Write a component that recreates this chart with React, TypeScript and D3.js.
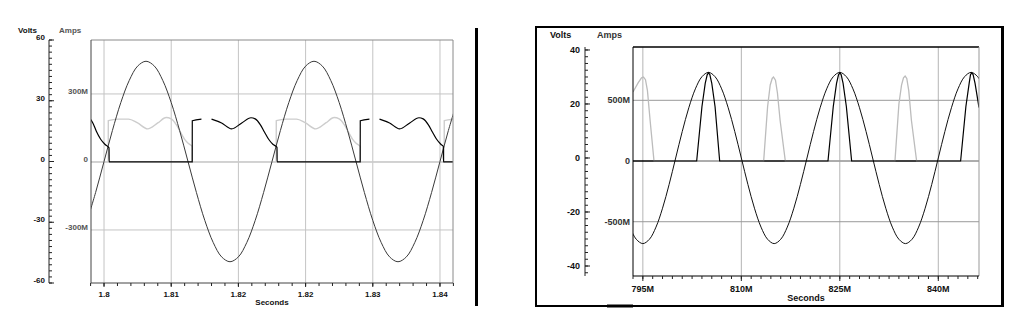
import * as d3 from 'd3';

type Pt = [number, number | null];

// ---- left scope (seconds, volts, mega-amps) ----
const leftVolts: Pt[] = [
  [1.798, -29.1], [1.799, -15.3], [1.8, 0], [1.801, 15.3], [1.802, 29.1], [1.803, 40.0],
  [1.804, 47.1], [1.805, 49.5], [1.806, 47.1], [1.807, 40.0], [1.808, 29.1], [1.809, 15.3],
  [1.81, 0], [1.811, -15.3], [1.812, -29.1], [1.813, -40.0], [1.814, -47.1], [1.815, -49.5],
  [1.816, -47.1], [1.817, -40.0], [1.818, -29.1], [1.819, -15.3], [1.82, 0], [1.821, 15.3],
  [1.822, 29.1], [1.823, 40.0], [1.824, 47.1], [1.825, 49.5], [1.826, 47.1], [1.827, 40.0],
  [1.828, 29.1], [1.829, 15.3], [1.83, 0], [1.831, -15.3], [1.832, -29.1], [1.833, -40.0],
  [1.834, -47.1], [1.835, -49.5], [1.836, -47.1], [1.837, -40.0], [1.838, -29.1], [1.839, -15.3],
  [1.84, 0], [1.841, 15.3], [1.842, 29.1],
];

const leftGrayAmps: Pt[] = [
  [1.7984, 0], [1.8005, 0], [1.80051, 182], [1.8017, 189], [1.8029, 189], [1.804, 172],
  [1.8052, 146], [1.8064, 172], [1.8074, 196], [1.808, 190], [1.8086, 165], [1.8091, 132],
  [1.8096, 100], [1.8101, 80], [1.8105, 68], [1.81051, 0],
  [1.8205, 0], [1.82051, 182], [1.8217, 189], [1.8229, 189], [1.824, 172], [1.8252, 146],
  [1.8264, 172], [1.8274, 196], [1.828, 190], [1.8286, 165], [1.8291, 132], [1.8296, 100],
  [1.8301, 80], [1.8305, 68], [1.83051, 0],
  [1.8405, 0], [1.84051, 182], [1.8417, 189],
];

const leftBlackAmps: Pt[] = [
  [1.7984, 188], [1.7987, 170], [1.7991, 134], [1.7996, 100], [1.8001, 78], [1.8006, 62],
  [1.80061, 0], [1.8105, 0], [1.81051, 182], [1.8116, 189], [1.8117, null], [1.8128, 189],
  [1.814, 172], [1.8152, 146], [1.8164, 172], [1.8175, 195], [1.818, 190], [1.8186, 165],
  [1.8191, 132], [1.8196, 100], [1.8201, 78], [1.8206, 64], [1.82061, 0],
  [1.8305, 0], [1.83051, 182], [1.8316, 189], [1.8317, null], [1.8328, 189], [1.834, 172],
  [1.8352, 146], [1.8364, 172], [1.8375, 195], [1.838, 190], [1.8386, 165], [1.8391, 132],
  [1.8396, 100], [1.8401, 78], [1.8404, 68], [1.84041, 0], [1.8417, 0],
];

const leftTimeTicks = [1.8, 1.808, 1.816, 1.824, 1.832, 1.84];
const leftTimeLabels = ['1.8', '1.81', '1.82', '1.82', '1.83', '1.84'];
const leftVoltTicks = [60, 30, 0, -30, -60];
const leftAmpTicks = [300, 0, -300];
const leftAmpLabels = ['300M', '0', '-300M'];

// ---- right scope (milliseconds, volts, mega-amps) ----
const rightVolts: Pt[] = [
  [793, -25.6], [794, -30.1], [795, -31.7], [796, -30.1], [797, -25.6], [798, -18.6],
  [799, -9.8], [800, 0], [801, 9.8], [802, 18.6], [803, 25.6], [804, 30.1], [805, 31.7],
  [806, 30.1], [807, 25.6], [808, 18.6], [809, 9.8], [810, 0], [811, -9.8], [812, -18.6],
  [813, -25.6], [814, -30.1], [815, -31.7], [816, -30.1], [817, -25.6], [818, -18.6],
  [819, -9.8], [820, 0], [821, 9.8], [822, 18.6], [823, 25.6], [824, 30.1], [825, 31.7],
  [826, 30.1], [827, 25.6], [828, 18.6], [829, 9.8], [830, 0], [831, -9.8], [832, -18.6],
  [833, -25.6], [834, -30.1], [835, -31.7], [836, -30.1], [837, -25.6], [838, -18.6],
  [839, -9.8], [840, 0], [841, 9.8], [842, 18.6], [843, 25.6], [844, 30.1], [845, 31.7],
  [846, 30.1], [847, 25.6],
];

const rightGrayAmps: Pt[] = [
  [793.5, 568], [794.3, 645], [794.8, 685], [795.1, 692], [795.4, 670], [795.7, 580],
  [796.1, 338], [796.7, 0], [813.4, 0], [814.0, 447], [814.4, 626], [814.7, 680],
  [814.9, 692], [815.2, 665], [815.5, 560], [815.9, 338], [816.7, 0], [833.4, 0],
  [834.0, 470], [834.4, 625], [834.7, 685], [834.95, 700], [835.2, 680], [835.5, 580],
  [835.9, 338], [836.7, 0], [846.2, 0],
];

const rightBlackAmps: Pt[] = [
  [793.5, 0], [803.2, 0], [804.0, 447], [804.5, 640], [804.8, 710], [805.0, 727],
  [805.2, 712], [805.5, 640], [806.0, 447], [806.7, 0], [823.2, 0], [824.0, 447],
  [824.5, 640], [824.8, 710], [825.0, 727], [825.2, 712], [825.5, 640], [826.0, 447],
  [826.8, 0], [843.4, 0], [844.2, 447], [844.7, 640], [844.9, 710], [845.1, 727],
  [845.3, 712], [845.6, 640], [846.2, 440],
];

const rightTimeTicks = [795, 810, 825, 840];
const rightTimeLabels = ['795M', '810M', '825M', '840M'];
const rightVoltTicks = [40, 20, 0, -20, -40];
const rightAmpTicks = [500, 0, -500];
const rightAmpLabels = ['500M', '0', '-500M'];

type ScopeProps = {
  id: string;
  left: number; right: number; top: number; bottom: number;
  voltAxisX: number;
  tDomain: [number, number]; vDomain: [number, number]; aDomain: [number, number];
  tMinor: number[]; vMinor: number[];
  tTicks: number[]; tLabels: string[];
  vTicks: number[]; aTicks: number[]; aLabels: string[];
  volts: Pt[]; gray: Pt[]; black: Pt[];
  sineCurve: d3.CurveFactory; ampCurve: d3.CurveFactory;
  font: number;
  voltsLabelX: number; ampsLabelX: number; headerY: number;
  vLabelX: number; aLabelX: number; labelDy: number;
  tLabelY: number; secondsY: number;
  frame: { top: string; topW: number; right: string; left: string; bottom: string; bottomW: number };
  gridV: string; gridH: string; zeroGrid: string;
  sine: string; grayColor: string; grayW: number; blackW: number;
  ampsColor: string;
  majorLen: number;
};

function Scope(p: ScopeProps) {
  const x = d3.scaleLinear().domain(p.tDomain).range([p.left, p.right]);
  const yv = d3.scaleLinear().domain(p.vDomain).range([p.bottom, p.top]);
  const ya = d3.scaleLinear().domain(p.aDomain).range([p.bottom, p.top]);

  const voltLine = d3
    .line<Pt>()
    .x((d) => x(d[0]))
    .y((d) => yv(d[1] as number))
    .curve(p.sineCurve);
  const ampLine = d3
    .line<Pt>()
    .defined((d) => d[1] !== null)
    .x((d) => x(d[0]))
    .y((d) => ya(d[1] as number))
    .curve(p.ampCurve);

  const inT = (t: number) => x(t) >= p.left - 0.5 && x(t) <= p.right + 0.5;
  const fontStyle = { fontFamily: 'Arial, "Liberation Sans", sans-serif', fontWeight: 700, fontSize: p.font };

  return (
    <g style={fontStyle}>
      <defs>
        <clipPath id={p.id}>
          <rect x={p.left} y={p.top} width={p.right - p.left} height={p.bottom - p.top} />
        </clipPath>
      </defs>

      {/* grid */}
      {p.tTicks.map((t) => (
        <line key={'gv' + t} x1={x(t)} x2={x(t)} y1={p.top} y2={p.bottom} stroke={p.gridV} />
      ))}
      {p.aTicks.map((a) => (
        <line key={'gh' + a} x1={p.left} x2={p.right} y1={ya(a)} y2={ya(a)} stroke={a === 0 ? p.zeroGrid : p.gridH} />
      ))}

      {/* traces */}
      <g clipPath={`url(#${p.id})`}>
        <path d={ampLine(p.gray) ?? ''} fill="none" stroke={p.grayColor} strokeWidth={p.grayW} />
        <path d={voltLine(p.volts) ?? ''} fill="none" stroke={p.sine} strokeWidth={1} />
        <path d={ampLine(p.black) ?? ''} fill="none" stroke="#000" strokeWidth={p.blackW} />
      </g>

      {/* frame */}
      <line x1={p.left} x2={p.right} y1={p.top} y2={p.top} stroke={p.frame.top} strokeWidth={p.frame.topW} />
      <line x1={p.right} x2={p.right} y1={p.top} y2={p.bottom} stroke={p.frame.right} />
      <line x1={p.left} x2={p.left} y1={p.top} y2={p.bottom} stroke={p.frame.left} />
      <line x1={p.left} x2={p.right} y1={p.bottom} y2={p.bottom} stroke={p.frame.bottom} strokeWidth={p.frame.bottomW} />

      {/* time axis */}
      {p.tMinor.filter(inT).map((t) => (
        <line key={'tm' + t} x1={x(t)} x2={x(t)} y1={p.bottom} y2={p.bottom + 3} stroke="#222" />
      ))}
      {p.tTicks.map((t, i) => (
        <g key={'tt' + t}>
          <line x1={x(t)} x2={x(t)} y1={p.bottom} y2={p.bottom + p.majorLen} stroke="#222" />
          <text x={x(t)} y={p.tLabelY} textAnchor="middle" fill="#111">
            {p.tLabels[i]}
          </text>
        </g>
      ))}
      <text x={(p.left + p.right) / 2} y={p.secondsY} textAnchor="middle" fill="#111">
        Seconds
      </text>

      {/* volts axis */}
      <line x1={p.voltAxisX} x2={p.voltAxisX} y1={yv(p.vDomain[1])} y2={yv(p.vDomain[0])} stroke="#222" />
      {p.vMinor.map((v) => (
        <line key={'vm' + v} x1={p.voltAxisX} x2={p.voltAxisX + 3} y1={yv(v)} y2={yv(v)} stroke="#222" />
      ))}
      {p.vTicks.map((v) => (
        <g key={'vt' + v}>
          <line x1={p.voltAxisX} x2={p.voltAxisX + 5} y1={yv(v)} y2={yv(v)} stroke="#222" />
          <text x={p.vLabelX} y={yv(v) + p.labelDy} textAnchor="end" fill="#111">
            {v}
          </text>
        </g>
      ))}

      {/* amps labels */}
      {p.aTicks.map((a, i) => (
        <text key={'at' + a} x={p.aLabelX} y={ya(a) + p.labelDy} textAnchor="end" fill={p.ampsColor}>
          {p.aLabels[i]}
        </text>
      ))}

      <text x={p.voltsLabelX} y={p.headerY} fill="#111">
        Volts
      </text>
      <text x={p.ampsLabelX} y={p.headerY} fill={p.ampsColor}>
        Amps
      </text>
    </g>
  );
}

export default function App() {
  const leftMinorT = d3.range(-3, 30).map((k) => 1.8 + k * 0.0016);
  const leftMinorV = d3.range(-60, 60.01, 3);
  const rightMinorT = d3.range(-2, 40).map((k) => 795 + k * 1.5);
  const rightMinorV = d3.range(-42.5, 41, 2.5);

  return (
    <svg
      width={1025}
      height={329}
      style={{ position: 'absolute', left: 0, top: 0, background: '#fff' }}
    >
      <rect x={0} y={0} width={1025} height={329} fill="#fff" />

      <Scope
        id="clipLeft"
        left={91} right={453} top={40} bottom={283}
        voltAxisX={49}
        tDomain={[1.79845, 1.84155]} vDomain={[-60, 60]} aDomain={[-534, 538]}
        tMinor={leftMinorT} vMinor={leftMinorV}
        tTicks={leftTimeTicks} tLabels={leftTimeLabels}
        vTicks={leftVoltTicks} aTicks={leftAmpTicks} aLabels={leftAmpLabels}
        volts={leftVolts} gray={leftGrayAmps} black={leftBlackAmps}
        sineCurve={d3.curveCatmullRom} ampCurve={d3.curveMonotoneX}
        font={8}
        voltsLabelX={18} ampsLabelX={59} headerY={33}
        vLabelX={45} aLabelX={88} labelDy={0}
        tLabelY={297} secondsY={305}
        frame={{ top: '#8a8a8a', topW: 1, right: '#8a8a8a', left: '#444', bottom: '#444', bottomW: 1 }}
        gridV="#c4c4c4" gridH="#c4c4c4" zeroGrid="#c4c4c4"
        sine="#3a3a3a" grayColor="#cdcdcd" grayW={1.4} blackW={1.2}
        ampsColor="#555"
        majorLen={4}
      />

      {/* divider */}
      <rect x={475} y={28} width={3} height={278} fill="#000" />

      {/* right frame */}
      <rect x={536} y={27} width={466} height={279} fill="none" stroke="#000" strokeWidth={2} />
      <line x1={1002.5} x2={1002.5} y1={26} y2={307} stroke="#000" strokeWidth={3} />
      <line x1={607} x2={633} y1={306} y2={306} stroke="#000" strokeWidth={3} />

      <Scope
        id="clipRight"
        left={633} right={979} top={47} bottom={276}
        voltAxisX={585}
        tDomain={[793.5, 846.2]} vDomain={[-43.7, 41.1]} aDomain={[-947, 939]}
        tMinor={rightMinorT} vMinor={rightMinorV}
        tTicks={rightTimeTicks} tLabels={rightTimeLabels}
        vTicks={rightVoltTicks} aTicks={rightAmpTicks} aLabels={rightAmpLabels}
        volts={rightVolts} gray={rightGrayAmps} black={rightBlackAmps}
        sineCurve={d3.curveCatmullRom} ampCurve={d3.curveLinear}
        font={9}
        voltsLabelX={550} ampsLabelX={597} headerY={37.5}
        vLabelX={580} aLabelX={630} labelDy={3}
        tLabelY={291.5} secondsY={300.5}
        frame={{ top: '#000', topW: 1.6, right: '#999', left: '#000', bottom: '#000', bottomW: 1.2 }}
        gridV="#b4b4b4" gridH="#999" zeroGrid="#000"
        sine="#111" grayColor="#bcbcbc" grayW={1.3} blackW={1.2}
        ampsColor="#333"
        majorLen={5}
      />
    </svg>
  );
}
